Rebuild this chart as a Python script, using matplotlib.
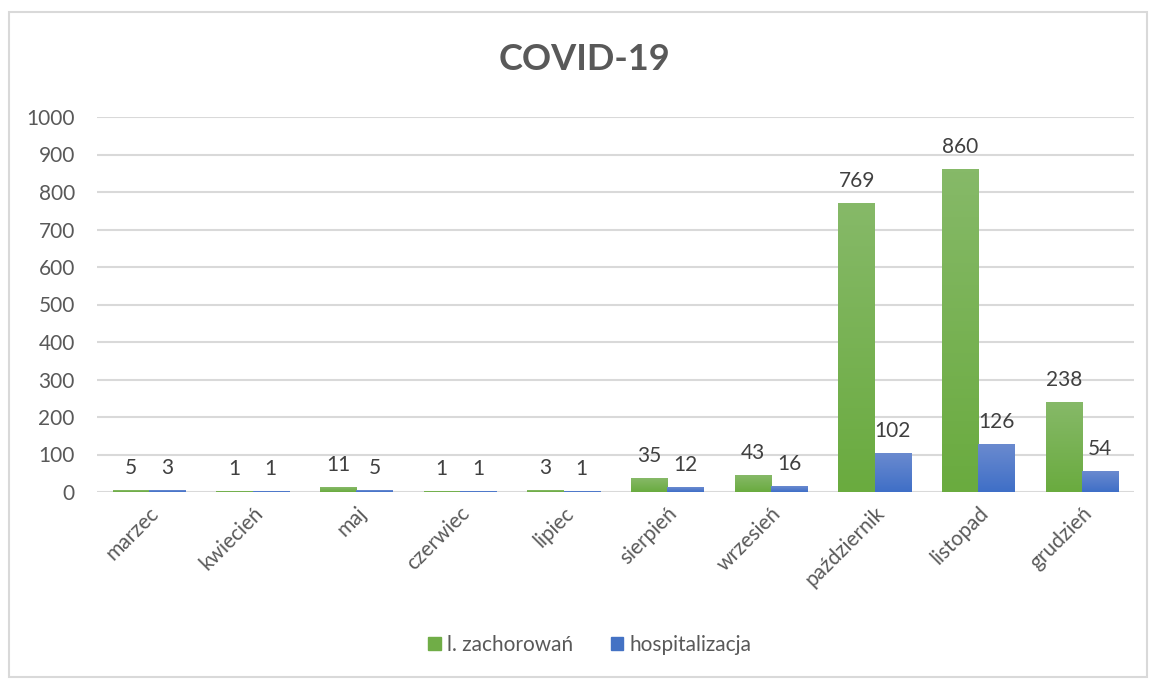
import numpy as np
import matplotlib.pyplot as plt
from matplotlib.patches import Rectangle
from matplotlib.colors import LinearSegmentedColormap

months = ["marzec", "kwiecień", "maj", "czerwiec", "lipiec",
          "sierpień", "wrzesień", "październik", "listopad", "grudzień"]
cases = [5, 1, 11, 1, 3, 35, 43, 769, 860, 238]
hospital = [3, 1, 5, 1, 1, 12, 16, 102, 126, 54]
yticks = [0, 100, 200, 300, 400, 500, 600, 700, 800, 900, 1000]

plt.rcParams['font.family'] = ['Lato', 'DejaVu Sans']

fig = plt.figure(figsize=(11.51, 6.8), dpi=100)
ax = fig.add_axes([97 / 1151, 1 - 492 / 680, (1134 - 97) / 1151, (492 - 117) / 680])

# outer frame of the chart
fig.patches.append(Rectangle((9 / 1151, 3 / 680), (1147 - 9) / 1151, (668 - 3) / 680,
                             transform=fig.transFigure, fill=False,
                             edgecolor="#d9d9d9", linewidth=1.5))

x = np.arange(len(months))
w = 0.35
green_cmap = LinearSegmentedColormap.from_list("g", ["#6aab3f", "#86b968"])
blue_cmap = LinearSegmentedColormap.from_list("b", ["#3f6fc7", "#6a8acf"])
grad = np.linspace(0, 1, 100).reshape(-1, 1)

for xs, vals, cmap in [(x - w / 2, cases, green_cmap), (x + w / 2, hospital, blue_cmap)]:
    bars = ax.bar(xs, vals, w, color="none", zorder=3)
    for b, v in zip(bars, vals):
        x0 = b.get_x()
        ax.imshow(grad, cmap=cmap, origin="lower", aspect="auto",
                  extent=[x0, x0 + w, 0, v], zorder=3)
        ax.annotate(str(v), (x0 + w / 2, v), xytext=(0, 9), textcoords="offset points",
                    ha="center", va="bottom", fontsize=15, color="#404040")

ax.set_xlim(-0.5, len(months) - 0.5)
ax.set_ylim(0, 1000)
ax.set_yticks(yticks)
ax.set_yticklabels([str(t) for t in yticks])
ax.set_xticks(x)
ax.set_xticklabels(months, rotation=45, ha="right", rotation_mode="anchor")
ax.tick_params(axis="both", length=0, labelsize=15, labelcolor="#595959")
ax.tick_params(axis="y", pad=16)
ax.tick_params(axis="x", pad=8)
ax.grid(axis="y", color="#d9d9d9", linewidth=1.5, zorder=0)
for s in ax.spines.values():
    s.set_visible(False)

fig.text(585 / 1151, 1 - 60 / 680, "COVID-19", ha="center", va="center",
         fontsize=26, fontweight="bold", color="#595959")

handles = [Rectangle((0, 0), 1, 1, color="#70ad47"), Rectangle((0, 0), 1, 1, color="#4472c4")]
fig.legend(handles, ["l. zachorowań", "hospitalizacja"], loc="center",
           bbox_to_anchor=(590 / 1151, 1 - 645 / 680), ncol=2, frameon=False,
           fontsize=15, labelcolor="#595959", handlelength=0.6, handleheight=0.6,
           handletextpad=0.3, columnspacing=1.8)

fig.savefig("out.png", dpi=100)
